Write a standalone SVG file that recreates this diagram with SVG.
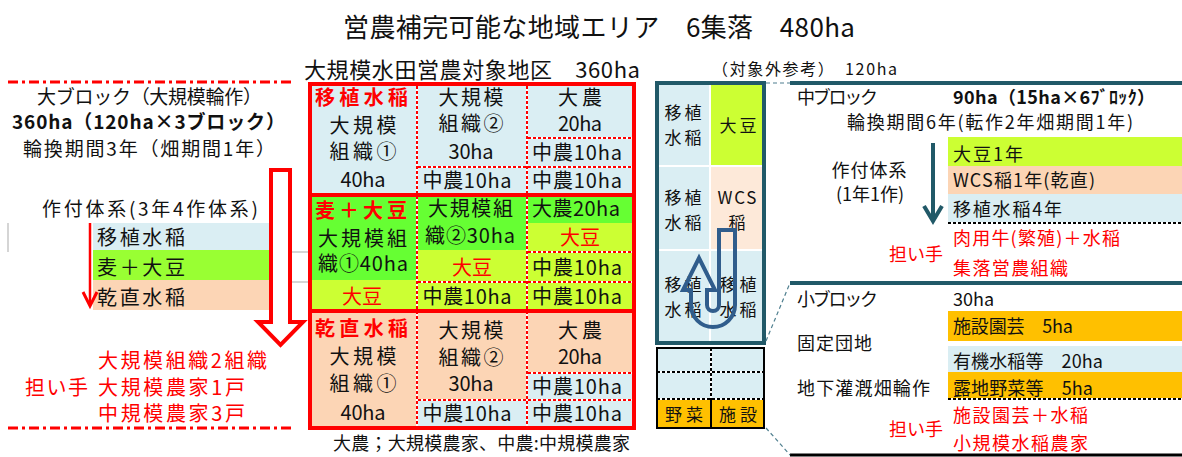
<svg xmlns="http://www.w3.org/2000/svg" width="1182" height="457" viewBox="0 0 1182 457">
<style>
text{font-family:'Noto Sans CJK JP','Noto Sans',sans-serif;fill:#111}
.r{fill:#FF0000}
.b{font-weight:bold}
.m{text-anchor:middle}
.f26{font-size:26px}.f22{font-size:22px}.f21{font-size:20px}.f20{font-size:20px}.f19{font-size:19px}.f18{font-size:18px}.f17{font-size:17px}.f16{font-size:16px}
.lb{fill:#DAEEF3}.gr{fill:#66FF33}.lg{fill:#99FF33}.yg{fill:#CCFF33}.pc{fill:#FCD5B5}.lp{fill:#FDE9D9}.og{fill:#FFC000}
.wl{stroke:#fff;stroke-width:2;fill:none}
.rd{stroke:#FF0000;stroke-width:2;stroke-dasharray:3 2;fill:none}
.bd{stroke:#000;stroke-width:2;stroke-dasharray:3 2;fill:none}
.dd{stroke:#FF0000;stroke-width:3;stroke-dasharray:10 4 3 4;fill:none}
.tl{stroke:#215968;fill:none}
.cn{stroke:#4F7F8F;stroke-width:1.2;stroke-dasharray:4 3;fill:none}
</style>
<defs>
<path id="gridDash" d="M417 86V426M527 86V426M418 167H526M528 138H632M528 167H632M418 282H526M528 252H632M528 282H632M418 400H526M528 373H632M528 400H632"/>
<path id="smallDash" d="M657 372H764M657 399H764M711 348V399"/>
</defs>

<g id="title">
<text class="f26" x="343" y="37" textLength="512">営農補完可能な地域エリア　6集落　480ha</text>
<text class="f22" x="304" y="78" textLength="336">大規模水田営農対象地区　360ha</text>
<text class="f16" x="712" y="75" textLength="185">（対象外参考）　120ha</text>
</g>

<g id="left-panel">
<path d="M8 223V252M292 252H308M292 282H308" stroke="#C8C8C8" stroke-width="1.5" fill="none"/>
<path class="dd" d="M8 82H292M8 428H292"/>
<text class="f19" x="37" y="104" textLength="225">大ブロック（大規模輪作）</text>
<text class="f19 b" x="12" y="129" textLength="273">360ha（120ha×3ブロック）</text>
<text class="f19" x="23" y="156" textLength="252">輪換期間3年（畑期間1年）</text>
<text class="f19" x="42" y="216" textLength="216">作付体系(3年4作体系)</text>
<rect class="lb" x="93" y="223" width="197" height="27"/>
<rect class="lg" x="93" y="250" width="197" height="30"/>
<rect class="pc" x="93" y="280" width="197" height="30"/>
<text class="f20" x="97" y="245" textLength="88">移植水稲</text>
<text class="f20" x="97" y="275" textLength="88">麦＋大豆</text>
<text class="f20" x="97" y="305" textLength="88">乾直水稲</text>
<text class="f20 r" x="98" y="368" textLength="169">大規模組織2組織</text>
<text class="f20 r" x="25" y="395" textLength="63">担い手</text>
<text class="f20 r" x="98" y="395" textLength="147">大規模農家1戸</text>
<text class="f20 r" x="98" y="421" textLength="147">中規模農家3戸</text>
</g>

<g id="rice-grid">
<rect class="lb" x="310" y="84" width="324" height="111"/>
<rect class="gr" x="310" y="195" width="107" height="85"/>
<rect class="yg" x="310" y="280" width="107" height="31"/>
<rect class="gr" x="417" y="195" width="110" height="55"/>
<rect class="yg" x="417" y="250" width="110" height="61"/>
<rect class="gr" x="527" y="195" width="107" height="28"/>
<rect class="yg" x="527" y="223" width="107" height="88"/>
<rect class="pc" x="310" y="311" width="324" height="117"/>
<rect class="lb" x="417" y="400" width="110" height="28"/>
<rect class="lb" x="527" y="373" width="107" height="55"/>
<use href="#gridDash" class="wl"/>
<use href="#gridDash" class="rd"/>
<rect x="310" y="84" width="324" height="344" fill="none" stroke="#FF0000" stroke-width="4"/>
<path d="M310 195H634M310 311H634" stroke="#FF0000" stroke-width="4"/>
</g>

<g id="block-1">
<text class="f21 r b" x="315" y="105" textLength="93">移植水稲</text>
<text class="f21 m" x="363" y="133" textLength="67">大規模</text>
<text class="f21 m" x="363" y="159" textLength="67">組織①</text>
<text class="f21 m" x="363" y="187" textLength="45">40ha</text>
<text class="f21 m" x="471" y="105" textLength="65">大規模</text>
<text class="f21 m" x="471" y="131" textLength="65">組織②</text>
<text class="f21 m" x="471" y="159" textLength="45">30ha</text>
<text class="f21 m" x="467" y="188" textLength="89">中農10ha</text>
<text class="f21 m" x="580" y="105" textLength="44">大農</text>
<text class="f21 m" x="580" y="131" textLength="44">20ha</text>
<text class="f21 m" x="577" y="160" textLength="90">中農10ha</text>
<text class="f21 m" x="577" y="188" textLength="90">中農10ha</text>
</g>

<g id="block-2">
<text class="f21 r b" x="315" y="218" textLength="92">麦＋大豆</text>
<text class="f21" x="318" y="246" textLength="89">大規模組</text>
<text class="f21" x="318" y="271" textLength="90">織①40ha</text>
<text class="f21 r m" x="362" y="304" textLength="40">大豆</text>
<text class="f21" x="428" y="216" textLength="85">大規模組</text>
<text class="f21" x="425" y="243" textLength="90">織②30ha</text>
<text class="f21 r m" x="472" y="275" textLength="40">大豆</text>
<text class="f21 m" x="467" y="304" textLength="89">中農10ha</text>
<text class="f21" x="532" y="216" textLength="88">大農20ha</text>
<text class="f21 r m" x="580" y="245" textLength="40">大豆</text>
<text class="f21 m" x="577" y="275" textLength="90">中農10ha</text>
<text class="f21 m" x="577" y="304" textLength="90">中農10ha</text>
</g>

<g id="block-3">
<text class="f21 r b" x="315" y="336" textLength="93">乾直水稲</text>
<text class="f21 m" x="363" y="364" textLength="67">大規模</text>
<text class="f21 m" x="363" y="391" textLength="67">組織①</text>
<text class="f21 m" x="363" y="420" textLength="45">40ha</text>
<text class="f21 m" x="471" y="338" textLength="65">大規模</text>
<text class="f21 m" x="471" y="365" textLength="65">組織②</text>
<text class="f21 m" x="471" y="391" textLength="45">30ha</text>
<text class="f21 m" x="467" y="421" textLength="89">中農10ha</text>
<text class="f21 m" x="580" y="338" textLength="44">大農</text>
<text class="f21 m" x="580" y="364" textLength="44">20ha</text>
<text class="f21 m" x="577" y="394" textLength="90">中農10ha</text>
<text class="f21 m" x="577" y="421" textLength="90">中農10ha</text>
</g>

<g id="legend-note">
<text class="f18" x="333" y="450" textLength="297">大農；大規模農家、中農:中規模農家</text>
</g>

<g id="small-grid">
<rect class="lb" x="659" y="85" width="50" height="80"/>
<rect class="yg" x="711" y="85" width="51" height="80"/>
<rect class="lb" x="659" y="167" width="50" height="82"/>
<rect class="lp" x="711" y="167" width="51" height="82"/>
<rect class="lb" x="659" y="251" width="50" height="90"/>
<rect class="lb" x="711" y="251" width="51" height="90"/>
<text class="f17 m" x="683" y="119" textLength="37">移植</text>
<text class="f17 m" x="683" y="144" textLength="37">水稲</text>
<text class="f17 m" x="738" y="132" textLength="37">大豆</text>
<text class="f17 m" x="683" y="204" textLength="37">移植</text>
<text class="f17 m" x="683" y="229" textLength="37">水稲</text>
<text class="f17 m" x="737" y="204" textLength="39">WCS</text>
<text class="f17 m" x="737" y="229">稲</text>
<text class="f17 m" x="683" y="291" textLength="37">移植</text>
<text class="f17 m" x="683" y="316" textLength="37">水稲</text>
<text class="f17 m" x="738" y="291" textLength="37">移植</text>
<text class="f17 m" x="738" y="316" textLength="37">水稲</text>
<rect class="tl" x="657" y="83" width="107" height="260" stroke-width="4"/>
</g>

<g id="bottom-grid">
<rect class="lb" x="657" y="348" width="107" height="51"/>
<rect class="og" x="657" y="399" width="107" height="29"/>
<use href="#smallDash" class="wl"/>
<use href="#smallDash" class="bd"/>
<path d="M711 399V428" stroke="#000" stroke-width="2"/>
<rect x="657" y="348" width="107" height="80" fill="none" stroke="#000" stroke-width="2"/>
<text class="f17 m" x="684" y="421" textLength="38">野菜</text>
<text class="f17 m" x="738" y="421" textLength="38">施設</text>
</g>

<g id="middle-block">
<path class="tl" d="M790 83H1182" stroke-width="4"/>
<text class="f18" x="797" y="104" textLength="81">中ブロック</text>
<text class="f18 b" x="953" y="104" textLength="202">90ha（15ha×6ﾌﾞﾛｯｸ）</text>
<text class="f18" x="847" y="129" textLength="286">輪換期間6年(転作2年畑期間1年)</text>
<text class="f18 m" x="869" y="177" textLength="75">作付体系</text>
<text class="f18 m" x="870" y="201">(1年1作)</text>
<rect class="yg" x="948" y="137" width="234" height="29"/>
<rect class="pc" x="948" y="166" width="234" height="28"/>
<rect class="lb" x="948" y="194" width="234" height="29"/>
<path class="wl" d="M948 223H1182"/>
<path class="bd" d="M948 223H1182"/>
<text class="f18" x="953" y="161" textLength="70">大豆1年</text>
<text class="f18" x="953" y="187" textLength="142">WCS稲1年(乾直)</text>
<text class="f18" x="953" y="216" textLength="109">移植水稲4年</text>
<text class="f18 r" x="953" y="245" textLength="167">肉用牛(繁殖)＋水稲</text>
<text class="f18 r" x="889" y="261" textLength="54">担い手</text>
<text class="f18 r" x="953" y="275" textLength="115">集落営農組織</text>
</g>

<g id="small-block">
<path class="tl" d="M790 283H1182" stroke-width="4"/>
<text class="f18" x="797" y="306" textLength="81">小ブロック</text>
<text class="f18" x="953" y="306">30ha</text>
<rect class="og" x="948" y="311" width="234" height="30"/>
<rect class="lb" x="948" y="346" width="234" height="26"/>
<rect class="og" x="948" y="372" width="234" height="27"/>
<path class="wl" d="M948 399H1182"/>
<path class="bd" d="M948 399H1182"/>
<text class="f18" x="953" y="333" textLength="120">施設園芸　5ha</text>
<text class="f18" x="797" y="350" textLength="75">固定団地</text>
<text class="f18" x="953" y="368" textLength="150">有機水稲等　20ha</text>
<text class="f18" x="953" y="395" textLength="140">露地野菜等　5ha</text>
<text class="f18" x="797" y="395" textLength="133">地下灌漑畑輪作</text>
<text class="f18 r" x="953" y="422" textLength="135">施設園芸＋水稲</text>
<text class="f18 r" x="889" y="436" textLength="54">担い手</text>
<text class="f18 r" x="953" y="450" textLength="135">小規模水稲農家</text>
<path d="M790 455H1182" stroke="#000" stroke-width="3"/>
</g>

<g id="connectors">
<path d="M90 223V304" stroke="#FF0000" stroke-width="2.5" fill="none"/>
<path d="M83 292L90 306L97 292" stroke="#FF0000" stroke-width="3" fill="none"/>
<path d="M271 170H290V322H303L280.5 345L258 322H271Z" fill="#fff" stroke="#FF0000" stroke-width="4" stroke-linejoin="miter"/>
<path d="M719 230H735V305A22 22 0 0 1 691 305V290H683L699 258L715 290H707V305A6 6 0 0 0 719 305Z" fill="none" stroke="#305D8C" stroke-width="4"/>
<path class="cn" d="M766 83H790M766 341L790 283M766 428L790 455"/>
<path d="M933 143V219" stroke="#215968" stroke-width="4" fill="none"/>
<path d="M924 206L933 221L942 206" stroke="#215968" stroke-width="4" fill="none"/>
</g>
</svg>
